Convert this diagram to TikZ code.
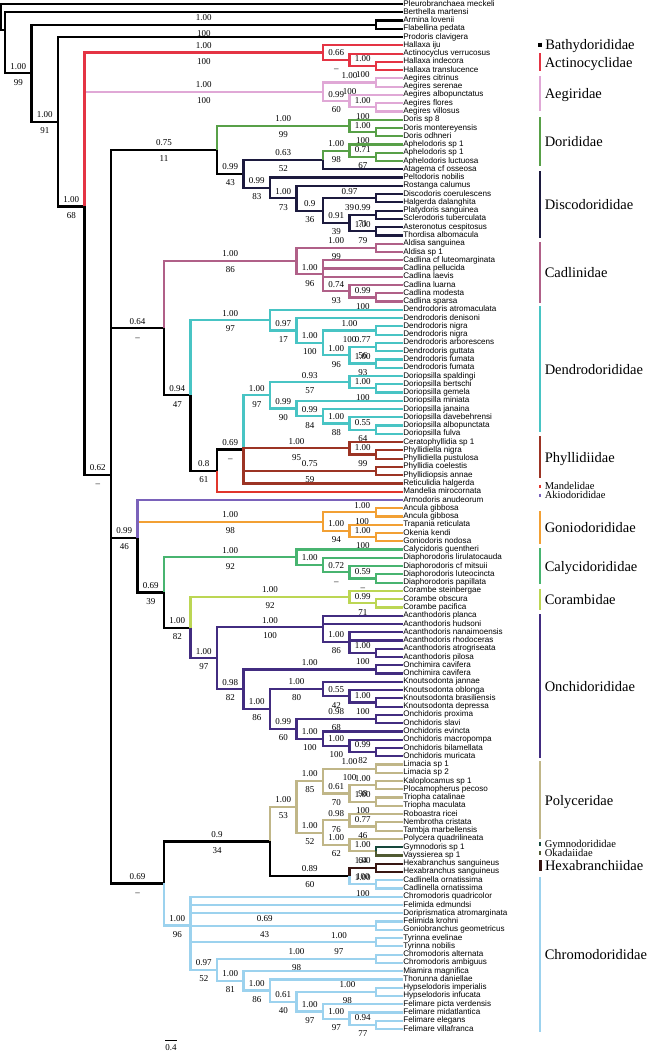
\documentclass[tikz,border=0pt]{standalone}
\usepackage{fontspec}
\setmainfont{Liberation Serif}
\newfontfamily\leaffont{Liberation Sans}
\definecolor{actc}{RGB}{228,52,68}
\definecolor{aegc}{RGB}{224,168,214}
\definecolor{dorc}{RGB}{88,160,72}
\definecolor{discc}{RGB}{28,26,62}
\definecolor{cadc}{RGB}{176,96,136}
\definecolor{denc}{RGB}{72,196,196}
\definecolor{phyc}{RGB}{156,52,36}
\definecolor{manc}{RGB}{224,54,44}
\definecolor{akic}{RGB}{122,98,186}
\definecolor{gonc}{RGB}{242,160,52}
\definecolor{calyc}{RGB}{72,180,112}
\definecolor{corc}{RGB}{188,214,84}
\definecolor{oncc}{RGB}{66,44,128}
\definecolor{polc}{RGB}{192,182,136}
\definecolor{gymc}{RGB}{22,72,60}
\definecolor{okac}{RGB}{80,90,50}
\definecolor{hexc}{RGB}{56,22,18}
\definecolor{chrc}{RGB}{156,210,238}
\tikzset{
  br/.style={line width=2.2pt,draw=#1},
  br/.default=black,
  leaf/.style={anchor=west,inner sep=0.6pt,font=\leaffont\fontsize{8.1}{8.1}\selectfont,text height=5.8pt,text depth=1.7pt},
  pa/.style={pos=.75,above=2pt,inner sep=1pt,font=\fontsize{9}{9}\selectfont,text height=6.2pt,text depth=0pt},
  pb/.style={pos=.75,below=3.5pt,inner sep=1pt,font=\fontsize{9}{9}\selectfont,text height=6.2pt,text depth=0pt},
  fam/.style={line width=2.5pt,draw=#1},
  famlbl/.style={midway,anchor=west,xshift=3.5pt,inner sep=0pt,font=\fontsize{14.5}{14.5}\selectfont,text height=10pt,text depth=0pt},
  famsm/.style={midway,anchor=west,xshift=3.5pt,inner sep=0pt,font=\fontsize{10.5}{10.5}\selectfont,text height=7pt,text depth=0pt}
}
\begin{document}
\begin{tikzpicture}[x=1pt,y=-1pt]
\useasboundingbox (0,0) rectangle (651,1053);
%---------------------------------------------------
% tips
\foreach \nm [count=\i] in {Pleurobranchaea meckeli,Berthella martensi,Armina lovenii,Flabellina pedata,Prodoris clavigera,Hallaxa iju,Actinocyclus verrucosus,Hallaxa indecora,Hallaxa translucence,Aegires citrinus,Aegires serenae,Aegires albopunctatus,Aegires flores,Aegires villosus,Doris sp 8,Doris montereyensis,Doris odhneri,Aphelodoris sp 1,Aphelodoris sp 1,Aphelodoris luctuosa,Atagema cf osseosa,Peltodoris nobilis,Rostanga calumus,Discodoris coerulescens,Halgerda dalanghita,Platydoris sanguinea,Sclerodoris tuberculata,Asteronotus cespitosus,Thordisa albomacula,Aldisa sanguinea,Aldisa sp 1,Cadlina cf luteomarginata,Cadlina pellucida,Cadlina laevis,Cadlina luarna,Cadlina modesta,Cadlina sparsa,Dendrodoris atromaculata,Dendrodoris denisoni,Dendrodoris nigra,Dendrodoris nigra,Dendrodoris arborescens,Dendrodoris guttata,Dendrodoris fumata,Dendrodoris fumata,Doriopsilla spaldingi,Doriopsilla bertschi,Doriopsilla gemela,Doriopsilla miniata,Doriopsilla janaina,Doriopsilla davebehrensi,Doriopsilla albopunctata,Doriopsilla fulva,Ceratophyllidia sp 1,Phyllidiella nigra,Phyllidiella pustulosa,Phyllidia coelestis,Phyllidiopsis annae,Reticulidia halgerda,Mandelia mirocornata,Armodoris anudeorum,Ancula gibbosa,Ancula gibbosa,Trapania reticulata,Okenia kendi,Goniodoris nodosa,Calycidoris guentheri,Diaphorodoris lirulatocauda,Diaphorodoris cf mitsuii,Diaphorodoris luteocincta,Diaphorodoris papillata,Corambe steinbergae,Corambe obscura,Corambe pacifica,Acanthodoris planca,Acanthodoris hudsoni,Acanthodoris nanaimoensis,Acanthodoris rhodoceras,Acanthodoris atrogriseata,Acanthodoris pilosa,Onchimira cavifera,Onchimira cavifera,Knoutsodonta jannae,Knoutsodonta oblonga,Knoutsodonta brasiliensis,Knoutsodonta depressa,Onchidoris proxima,Onchidoris slavi,Onchidoris evincta,Onchidoris macropompa,Onchidoris bilamellata,Onchidoris muricata,Limacia sp 1,Limacia sp 2,Kaloplocamus sp 1,Plocamopherus pecoso,Triopha catalinae,Triopha maculata,Roboastra ricei,Nembrotha cristata,Tambja marbellensis,Polycera quadrilineata,Gymnodoris sp 1,Vayssierea sp 1,Hexabranchus sanguineus,Hexabranchus sanguineus,Cadlinella ornatissima,Cadlinella ornatissima,Chromodoris quadricolor,Felimida edmundsi,Doriprismatica atromarginata,Felimida krohni,Goniobranchus geometricus,Tyrinna evelinae,Tyrinna nobilis,Chromodoris alternata,Chromodoris ambiguus,Miamira magnifica,Thorunna daniellae,Hypselodoris imperialis,Hypselodoris infucata,Felimare picta verdensis,Felimare midatlantica,Felimare elegans,Felimare villafranca}
  \node[leaf] (l\i) at (402.5,{4+(\i-1)*8.266}) {\nm};
%---------------------------------------------------
% inner nodes
\coordinate (root) at (1.2,17);
\coordinate (r2) at (5,30);
\coordinate (a) at (31.5,73.21);
\coordinate (af) at (376,24.67);
\coordinate (b) at (58,121.75);
\coordinate (c) at (84.5,206.44);
\coordinate (act) at (323,52.57);
\coordinate (act2) at (349.5,59.8);
\coordinate (act3) at (376,66.0);
\coordinate (aeg) at (323,91.83);
\coordinate (aeg1) at (376,82.53);
\coordinate (aeg2) at (349.5,101.13);
\coordinate (aeg3) at (376,107.33);
\coordinate (d) at (111,474.91);
\coordinate (e) at (217,149.95);
\coordinate (dor1) at (349.5,125.93);
\coordinate (dor2) at (376,132.13);
\coordinate (e2) at (243.5,173.97);
\coordinate (atg) at (323,160.02);
\coordinate (aph1) at (349.5,150.72);
\coordinate (aph2) at (376,156.92);
\coordinate (e3) at (270,187.92);
\coordinate (e4) at (296.5,198.25);
\coordinate (e5) at (323,210.65);
\coordinate (e6) at (376,198.25);
\coordinate (e7) at (349.5,223.05);
\coordinate (e8) at (376,214.79);
\coordinate (e9) at (376,231.32);
\coordinate (f) at (164,328.21);
\coordinate (cad) at (296.5,261.02);
\coordinate (cad1) at (376,247.85);
\coordinate (cad2) at (323,274.2);
\coordinate (cad3) at (349.5,291.24);
\coordinate (cad4) at (376,297.45);
\coordinate (f2) at (190.5,395.39);
\coordinate (den) at (270,320.17);
\coordinate (den2) at (296.5,330.5);
\coordinate (den3) at (323,342.9);
\coordinate (den4a) at (376,330.51);
\coordinate (den5) at (349.5,355.3);
\coordinate (den4b) at (376,347.04);
\coordinate (den4c) at (376,363.57);
\coordinate (f3) at (217,470.61);
\coordinate (f4) at (243.5,449.53);
\coordinate (dp) at (270,395.35);
\coordinate (dp1) at (349.5,382.17);
\coordinate (dp1a) at (376,388.37);
\coordinate (dp2) at (296.5,408.52);
\coordinate (dp3) at (323,416.27);
\coordinate (dp4) at (349.5,423.5);
\coordinate (dp5) at (376,429.7);
\coordinate (phy1) at (349.5,448.3);
\coordinate (phy1a) at (376,454.5);
\coordinate (phy2) at (376,471.03);
\coordinate (g) at (137.5,538.03);
\coordinate (gon) at (323,521.66);
\coordinate (gon1) at (376,512.36);
\coordinate (gon2) at (349.5,530.96);
\coordinate (gon3) at (376,537.16);
\coordinate (g2) at (164,592.47);
\coordinate (caly) at (296.5,557.31);
\coordinate (caly2) at (323,565.06);
\coordinate (caly3) at (349.5,572.29);
\coordinate (caly4) at (376,578.49);
\coordinate (g3) at (190.5,627.63);
\coordinate (cor) at (349.5,597.09);
\coordinate (cor2) at (376,603.29);
\coordinate (g4) at (217,658.17);
\coordinate (onc1) at (323,627.16);
\coordinate (onc1b) at (349.5,641.86);
\coordinate (onc1c) at (376,652.88);
\coordinate (g5) at (243.5,689.18);
\coordinate (onc2) at (376,669.42);
\coordinate (g6) at (270,708.94);
\coordinate (knt) at (323,689.05);
\coordinate (knt2) at (349.5,696.28);
\coordinate (knt3) at (376,702.48);
\coordinate (g7) at (296.5,728.83);
\coordinate (onp1) at (376,719.01);
\coordinate (g8) at (323,738.65);
\coordinate (g9) at (349.5,745.88);
\coordinate (g10) at (376,752.08);
\coordinate (h) at (164,883.45);
\coordinate (h2) at (270,841.46);
\coordinate (pol) at (296.5,806.84);
\coordinate (pol1) at (323,781.01);
\coordinate (lim) at (376,768.61);
\coordinate (pol1b) at (349.5,793.41);
\coordinate (pol1c) at (376,785.14);
\coordinate (pol1d) at (376,801.67);
\coordinate (pol2) at (323,832.67);
\coordinate (pol2a) at (349.5,820.27);
\coordinate (pol2c) at (376,826.47);
\coordinate (pol2b) at (349.5,845.07);
\coordinate (gym) at (376,851.27);
\coordinate (h3) at (349.5,876.07);
\coordinate (hex) at (376,867.8);
\coordinate (cdl) at (376,884.33);
\coordinate (chr) at (190.5,925.43);
\coordinate (chrb) at (376,925.66);
\coordinate (tyr) at (376,942.19);
\coordinate (chr5) at (217,969.77);
\coordinate (chra) at (376,958.73);
\coordinate (chr6) at (243.5,980.81);
\coordinate (chr7) at (270,990.5);
\coordinate (chr8) at (296.5,1001.61);
\coordinate (hyp) at (376,991.79);
\coordinate (chr9) at (323,1011.42);
\coordinate (chr10) at (349.5,1018.65);
\coordinate (chr11) at (376,1024.85);
%---------------------------------------------------
% backbone and outgroups
\draw[br] (root) |- (l1) (root) |- (r2);
\draw[br] (r2) |- (l2) (r2) |- (a) node[pa]{1.00} node[pb]{99};
\draw[br] (a) |- (af) node[pa]{1.00} node[pb]{100} (a) |- (b) node[pa]{1.00} node[pb]{91};
\draw[br] (af) |- (l3) (af) |- (l4);
\draw[br] (b) |- (l5) (b) |- (c) node[pa]{1.00} node[pb]{68};
\draw[br] (c) |- (d) node[pa]{0.62} node[pb]{\textendash};
\draw[br=aegc] (c) |- (aeg) node[pa]{1.00} node[pb]{100};
\draw[br=actc] (c) |- (act) node[pa]{1.00} node[pb]{100};
\draw[br] (d) |- (e) node[pa]{0.75} node[pb]{11} (d) |- (f) node[pa]{0.64} node[pb]{\textendash} (d) |- (g) node[pa]{0.99} node[pb]{46} (d) |- (h) node[pa]{0.69} node[pb]{\textendash};
%---------------------------------------------------
% Actinocyclidae, Aegiridae
\draw[br=actc] (act) |- (l6) (act) |- (act2) node[pa]{0.66} node[pb]{\textendash};
\draw[br=actc] (act2) |- (l7) (act2) |- (act3) node[pa]{1.00} node[pb]{100};
\draw[br=actc] (act3) |- (l8) (act3) |- (l9);
\draw[br=aegc] (aeg) |- (aeg1) node[pa]{1.00} node[pb]{100} (aeg) |- (aeg2) node[pa]{0.99} node[pb]{60};
\draw[br=aegc] (aeg1) |- (l10) (aeg1) |- (l11);
\draw[br=aegc] (aeg2) |- (l12) (aeg2) |- (aeg3) node[pa]{1.00} node[pb]{100};
\draw[br=aegc] (aeg3) |- (l13) (aeg3) |- (l14);
%---------------------------------------------------
% Dorididae, Discodorididae
\draw[br=dorc] (e) |- (dor1) node[pa]{1.00} node[pb]{99};
\draw[br] (e) |- (e2) node[pa]{0.99} node[pb]{43};
\draw[br=dorc] (dor1) |- (l15) (dor1) |- (dor2) node[pa]{1.00} node[pb]{100};
\draw[br=dorc] (dor2) |- (l16) (dor2) |- (l17);
\draw[br=discc] (e2) |- (atg) node[pa]{0.63} node[pb]{52} (e2) |- (e3) node[pa]{0.99} node[pb]{83};
\draw[br=dorc] (atg) |- (aph1) node[pa]{1.00} node[pb]{98};
\draw[br=discc] (atg) |- (l21);
\draw[br=dorc] (aph1) |- (l18) (aph1) |- (aph2) node[pa]{0.71} node[pb]{67};
\draw[br=dorc] (aph2) |- (l19) (aph2) |- (l20);
\draw[br=discc] (e3) |- (l22) (e3) |- (e4) node[pa]{1.00} node[pb]{73};
\draw[br=discc] (e4) |- (l23) (e4) |- (e5) node[pa]{0.9} node[pb]{36};
\draw[br=discc] (e5) |- (e6) node[pa]{0.97} node[pb]{39} (e5) |- (e7) node[pa]{0.91} node[pb]{39};
\draw[br=discc] (e6) |- (l24) (e6) |- (l25);
\draw[br=discc] (e7) |- (e8) node[pa]{0.99} node[pb]{71} (e7) |- (e9) node[pa]{1.00} node[pb]{79};
\draw[br=discc] (e8) |- (l26) (e8) |- (l27);
\draw[br=discc] (e9) |- (l28) (e9) |- (l29);
%---------------------------------------------------
% Cadlinidae, Dendrodorididae, Phyllidiidae, Mandelidae
\draw[br=cadc] (f) |- (cad) node[pa]{1.00} node[pb]{86};
\draw[br] (f) |- (f2) node[pa]{0.94} node[pb]{47};
\draw[br=cadc] (cad) |- (cad1) node[pa]{1.00} node[pb]{99} (cad) |- (cad2) node[pa]{1.00} node[pb]{96};
\draw[br=cadc] (cad1) |- (l30) (cad1) |- (l31);
\draw[br=cadc] (cad2) |- (l32) (cad2) |- (l33) (cad2) |- (l34) (cad2) |- (cad3) node[pa]{0.74} node[pb]{93};
\draw[br=cadc] (cad3) |- (l35) (cad3) |- (cad4) node[pa]{0.99} node[pb]{100};
\draw[br=cadc] (cad4) |- (l36) (cad4) |- (l37);
\draw[br=denc] (f2) |- (den) node[pa]{1.00} node[pb]{97};
\draw[br] (f2) |- (f3) node[pa]{0.8} node[pb]{61};
\draw[br=denc] (den) |- (l38) (den) |- (den2) node[pa]{0.97} node[pb]{17};
\draw[br=denc] (den2) |- (l39) (den2) |- (den3) node[pa]{1.00} node[pb]{100};
\draw[br=denc] (den3) |- (den4a) node[pa]{1.00} node[pb]{100} (den3) |- (den5) node[pa]{1.00} node[pb]{96};
\draw[br=denc] (den4a) |- (l40) (den4a) |- (l41);
\draw[br=denc] (den5) |- (den4b) node[pa]{0.77} node[pb]{56} (den5) |- (den4c) node[pa]{1.00} node[pb]{93};
\draw[br=denc] (den4b) |- (l42) (den4b) |- (l43);
\draw[br=denc] (den4c) |- (l44) (den4c) |- (l45);
\draw[br] (f3) |- (f4) node[pa]{0.69} node[pb]{\textendash};
\draw[br=manc] (f3) |- (l60);
\draw[br=denc] (f4) |- (dp) node[pa]{1.00} node[pb]{97};
\draw[br=phyc] (f4) |- (phy1) node[pa]{1.00} node[pb]{95} (f4) |- (phy2) node[pa]{0.75} node[pb]{59} (f4) |- (l59);
\draw[br=denc] (dp) |- (dp1) node[pa]{0.93} node[pb]{57} (dp) |- (dp2) node[pa]{0.99} node[pb]{90};
\draw[br=denc] (dp1) |- (l46) (dp1) |- (dp1a) node[pa]{1.00} node[pb]{100};
\draw[br=denc] (dp1a) |- (l47) (dp1a) |- (l48);
\draw[br=denc] (dp2) |- (l49) (dp2) |- (dp3) node[pa]{0.99} node[pb]{84};
\draw[br=denc] (dp3) |- (l50) (dp3) |- (dp4) node[pa]{1.00} node[pb]{88};
\draw[br=denc] (dp4) |- (l51) (dp4) |- (dp5) node[pa]{0.55} node[pb]{64};
\draw[br=denc] (dp5) |- (l52) (dp5) |- (l53);
\draw[br=phyc] (phy1) |- (l54) (phy1) |- (phy1a) node[pa]{1.00} node[pb]{99};
\draw[br=phyc] (phy1a) |- (l55) (phy1a) |- (l56);
\draw[br=phyc] (phy2) |- (l57) (phy2) |- (l58);
%---------------------------------------------------
% Akiodorididae, Goniodorididae, Calycidorididae, Corambidae, Onchidorididae
\draw[br=gonc] (g) |- (gon) node[pa]{1.00} node[pb]{98};
\draw[br=akic] (g) |- (l61);
\draw[br] (g) |- (g2) node[pa]{0.69} node[pb]{39};
\draw[br=gonc] (gon) |- (gon1) node[pa,pos=.87]{1.00} node[pb,pos=.87]{100} (gon) |- (gon2) node[pa]{1.00} node[pb]{94};
\draw[br=gonc] (gon1) |- (l62) (gon1) |- (l63);
\draw[br=gonc] (gon2) |- (l64) (gon2) |- (gon3) node[pa]{1.00} node[pb]{100};
\draw[br=gonc] (gon3) |- (l65) (gon3) |- (l66);
\draw[br=calyc] (g2) |- (caly) node[pa]{1.00} node[pb]{92};
\draw[br] (g2) |- (g3) node[pa]{1.00} node[pb]{82};
\draw[br=calyc] (caly) |- (l67) (caly) |- (caly2) node[pa]{1.00};
\draw[br=calyc] (caly2) |- (l68) (caly2) |- (caly3) node[pa]{0.72} node[pb]{\textendash};
\draw[br=calyc] (caly3) |- (l69) (caly3) |- (caly4) node[pa]{0.59} node[pb]{\textendash};
\draw[br=calyc] (caly4) |- (l70) (caly4) |- (l71);
\draw[br=corc] (g3) |- (cor) node[pa]{1.00} node[pb]{92};
\draw[br=oncc] (g3) |- (g4) node[pa]{1.00} node[pb]{97};
\draw[br=corc] (cor) |- (l72) (cor) |- (cor2) node[pa]{0.99} node[pb]{71};
\draw[br=corc] (cor2) |- (l73) (cor2) |- (l74);
\draw[br=oncc] (g4) |- (onc1) node[pa]{1.00} node[pb]{100} (g4) |- (g5) node[pa]{0.98} node[pb]{82};
\draw[br=oncc] (onc1) |- (l75) (onc1) |- (l76) (onc1) |- (onc1b) node[pa]{1.00} node[pb]{86};
\draw[br=oncc] (onc1b) |- (l77) (onc1b) |- (l78) (onc1b) |- (onc1c) node[pa]{1.00} node[pb]{100};
\draw[br=oncc] (onc1c) |- (l79) (onc1c) |- (l80);
\draw[br=oncc] (g5) |- (onc2) node[pa]{1.00} (g5) |- (g6) node[pa]{1.00} node[pb]{86};
\draw[br=oncc] (onc2) |- (l81) (onc2) |- (l82);
\draw[br=oncc] (g6) |- (knt) node[pa]{1.00} node[pb]{80} (g6) |- (g7) node[pa]{0.99} node[pb]{60};
\draw[br=oncc] (knt) |- (l83) (knt) |- (knt2) node[pa]{0.55} node[pb]{42};
\draw[br=oncc] (knt2) |- (l84) (knt2) |- (knt3) node[pa]{1.00} node[pb]{100};
\draw[br=oncc] (knt3) |- (l85) (knt3) |- (l86);
\draw[br=oncc] (g7) |- (onp1) node[pa]{0.98} node[pb]{68} (g7) |- (g8) node[pa]{1.00} node[pb]{100};
\draw[br=oncc] (onp1) |- (l87) (onp1) |- (l88);
\draw[br=oncc] (g8) |- (l89) (g8) |- (g9) node[pa]{1.00} node[pb]{100};
\draw[br=oncc] (g9) |- (l90) (g9) |- (g10) node[pa]{0.99} node[pb]{82};
\draw[br=oncc] (g10) |- (l91) (g10) |- (l92);
%---------------------------------------------------
% Polyceridae, Hexabranchiidae, Chromodorididae
\draw[br] (h) |- (h2) node[pa]{0.9} node[pb]{34};
\draw[br=chrc] (h) |- (chr) node[pa]{1.00} node[pb]{96};
\draw[br=polc] (h2) |- (pol) node[pa]{1.00} node[pb]{53};
\draw[br] (h2) |- (h3) node[pa]{0.89} node[pb]{60};
\draw[br=polc] (pol) |- (pol1) node[pa]{1.00} node[pb]{85} (pol) |- (pol2) node[pa]{1.00} node[pb]{52};
\draw[br=polc] (pol1) |- (lim) node[pa]{1.00} node[pb]{100} (pol1) |- (pol1b) node[pa]{0.61} node[pb]{70};
\draw[br=polc] (lim) |- (l93) (lim) |- (l94);
\draw[br=polc] (pol1b) |- (pol1c) node[pa]{1.00} node[pb]{98} (pol1b) |- (pol1d) node[pa]{1.00} node[pb]{100};
\draw[br=polc] (pol1c) |- (l95) (pol1c) |- (l96);
\draw[br=polc] (pol1d) |- (l97) (pol1d) |- (l98);
\draw[br=polc] (pol2) |- (pol2a) node[pa]{0.98} node[pb]{76} (pol2) |- (pol2b) node[pa]{1.00} node[pb]{62};
\draw[br=polc] (pol2a) |- (l99) (pol2a) |- (pol2c) node[pa]{0.77} node[pb]{46};
\draw[br=polc] (pol2c) |- (l100) (pol2c) |- (l101);
\draw[br=polc] (pol2b) |- (l102) (pol2b) |- (gym) node[pa]{1.00} node[pb]{64};
\draw[br=gymc] (gym) |- (l103);
\draw[br=okac] (gym) |- (l104);
\draw[br=hexc] (h3) |- (hex) node[pa]{1.00} node[pb]{100};
\draw[br=chrc] (h3) |- (cdl) node[pa]{1.00} node[pb]{100};
\draw[br=hexc] (hex) |- (l105) (hex) |- (l106);
\draw[br=chrc] (cdl) |- (l107) (cdl) |- (l108);
\draw[br=chrc] (chr) |- (l109) (chr) |- (l110) (chr) |- (l111) (chr) |- (chrb) node[pa,pos=.7]{0.69} node[pb,pos=.7]{43} (chr) |- (tyr) node[pa,pos=.9]{1.00} node[pb,pos=.9]{97} (chr) |- (chr5) node[pa]{0.97} node[pb]{52};
\draw[br=chrc] (chrb) |- (l112) (chrb) |- (l113);
\draw[br=chrc] (tyr) |- (l114) (tyr) |- (l115);
\draw[br=chrc] (chr5) |- (chra) node[pa]{1.00} node[pb]{98} (chr5) |- (chr6) node[pa]{1.00} node[pb]{81};
\draw[br=chrc] (chra) |- (l116) (chra) |- (l117);
\draw[br=chrc] (chr6) |- (l118) (chr6) |- (chr7) node[pa]{1.00} node[pb]{86};
\draw[br=chrc] (chr7) |- (l119) (chr7) |- (chr8) node[pa]{0.61} node[pb]{40};
\draw[br=chrc] (chr8) |- (hyp) node[pa,pos=.82]{1.00} node[pb,pos=.82]{98} (chr8) |- (chr9) node[pa]{1.00} node[pb]{97};
\draw[br=chrc] (hyp) |- (l120) (hyp) |- (l121);
\draw[br=chrc] (chr9) |- (l122) (chr9) |- (chr10) node[pa]{1.00} node[pb]{97};
\draw[br=chrc] (chr10) |- (l123) (chr10) |- (chr11) node[pa]{0.94} node[pb]{77};
\draw[br=chrc] (chr11) |- (l124) (chr11) |- (l125);
%---------------------------------------------------
% family bars
\draw[fam=black,line width=3.5pt] (540,42.5) -- (540,46.5) node[famlbl] (fbat) {Bathydorididae};
\draw[fam=actc] (540,53) -- (540,71) node[famlbl] (fact) {Actinocyclidae};
\draw[fam=aegc] (540,76) -- (540,111) node[famlbl] (faeg) {Aegiridae};
\draw[fam=dorc] (540,117) -- (540,166) node[famlbl] (fdor) {Dorididae};
\draw[fam=discc] (540,171) -- (540,238) node[famlbl] (fdis) {Discodorididae};
\draw[fam=cadc] (540,242) -- (540,303) node[famlbl] (fcad) {Cadlinidae};
\draw[fam=denc] (540,306) -- (540,432) node[famlbl] (fden) {Dendrodorididae};
\draw[fam=phyc] (540,436) -- (540,478) node[famlbl] (fphy) {Phyllidiidae};
\draw[fam=manc,line width=2.8pt] (540,484.5) -- (540,488) node[famsm] (fman) {Mandelidae};
\draw[fam=akic,line width=2.8pt] (540,493.5) -- (540,497) node[famsm] (faki) {Akiodorididae};
\draw[fam=gonc] (540,511) -- (540,544) node[famlbl] (fgon) {Goniodorididae};
\draw[fam=calyc] (540,548) -- (540,584) node[famlbl] (fcal) {Calycidorididae};
\draw[fam=corc] (540,589) -- (540,610) node[famlbl] (fcor) {Corambidae};
\draw[fam=oncc] (540,614) -- (540,758) node[famlbl] (fonc) {Onchidorididae};
\draw[fam=polc] (540,761) -- (540,839) node[famlbl] (fpol) {Polyceridae};
\draw[fam=gymc,line width=2.8pt] (540,842) -- (540,846) node[famsm] (fgym) {Gymnodorididae};
\draw[fam=okac,line width=2.8pt] (540,851) -- (540,855) node[famsm] (foka) {Okadaiidae};
\draw[fam=hexc,line width=3pt] (540,860) -- (540,871) node[famlbl] (fhex) {Hexabranchiidae};
\draw[fam=chrc] (540,877) -- (540,1032) node[famlbl] (fchr) {Chromodorididae};
%---------------------------------------------------
% scale
\coordinate (sba) at (165,1040.7);
\coordinate (sbb) at (177,1040.7);
\draw[line width=1.3pt] (sba) -- (sbb);
\node[font=\fontsize{9}{9}\selectfont,inner sep=0pt] (sbl) at (171,1047.5) {0.4};
\end{tikzpicture}
\end{document}
